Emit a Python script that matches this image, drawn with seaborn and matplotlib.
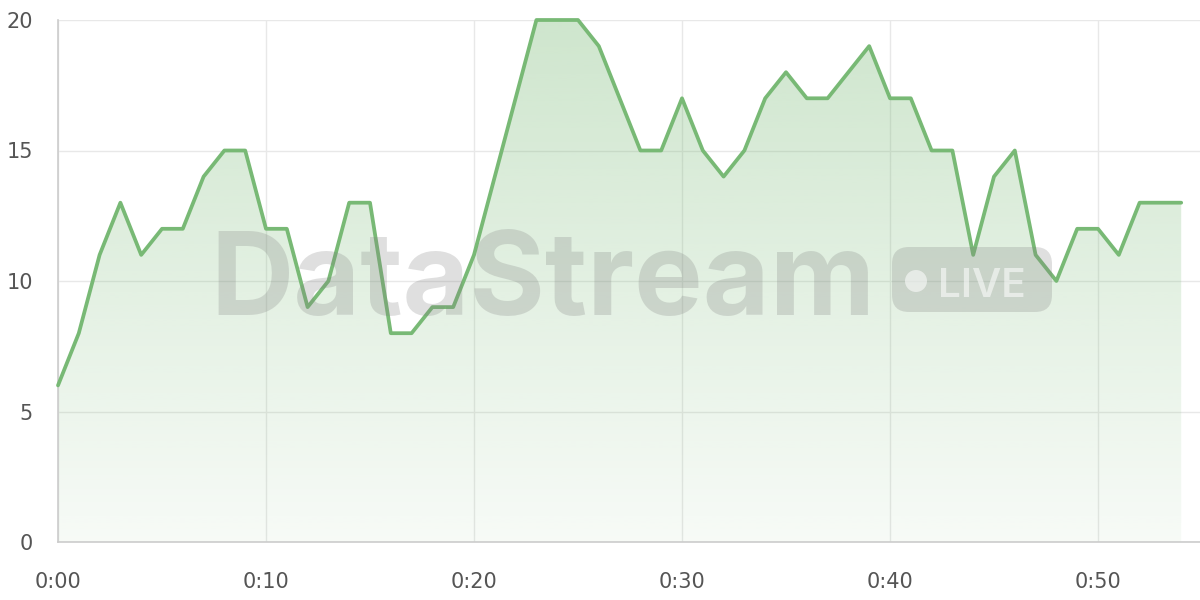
"""
Live stream viewer count chart with DataStream watermark.
"""

import matplotlib

matplotlib.use("Agg")

import matplotlib.pyplot as plt
import numpy as np
import seaborn as sns
from matplotlib.patches import Circle, FancyBboxPatch
from matplotlib.transforms import IdentityTransform


# -----------------------------
# Data
# -----------------------------

MINUTES = list(range(55))

VIEWERS = [
    6, 8, 11, 13, 11, 12, 12, 14, 15, 15,
    12, 12, 9, 10, 13, 13, 8, 8, 9, 9,
    11, 14, 17, 20, 20, 20, 19, 17, 15, 15,
    17, 15, 14, 15, 17, 18, 17, 17, 18, 19,
    17, 17, 15, 15, 11, 14, 15, 11, 10, 12,
    12, 11, 13, 13, 13,
]

X_TICKS = [0, 10, 20, 30, 40, 50]
X_TICK_LABELS = ["0:00", "0:10", "0:20", "0:30", "0:40", "0:50"]
Y_TICKS = [0, 5, 10, 15, 20]


# -----------------------------
# Style
# -----------------------------

sns.set_style("white")
plt.rcParams["font.family"] = ["DejaVu Sans"]

LINE_COLOR = "#78b975"
GRID_COLOR = "#e8e8e8"
AXIS_COLOR = "#cccccc"
TEXT_COLOR = "#555555"


def draw_gradient_fill(ax, x, y):
    poly = ax.fill_between(x, y, 0, color="none", linewidth=0)
    path = poly.get_paths()[0]

    rgb = np.array(matplotlib.colors.to_rgb(LINE_COLOR))
    grad = np.zeros((256, 1, 4))
    grad[:, 0, :3] = rgb
    grad[:, 0, 3] = np.linspace(0.06, 0.36, 256)

    img = ax.imshow(
        grad,
        extent=[0, max(x), 0, 20],
        origin="lower",
        aspect="auto",
        zorder=1,
        interpolation="bilinear",
    )
    img.set_clip_path(path, transform=ax.transData)


def draw_watermark(fig):
    ident = IdentityTransform()
    wm_color = "#808080"
    wm_alpha = 0.25

    fig.text(
        210, 600 - 315, "DataStream",
        transform=ident,
        fontsize=83,
        fontweight="bold",
        family=["Inter", "DejaVu Sans"],
        color=wm_color,
        alpha=wm_alpha,
        ha="left",
        va="baseline",
        zorder=3,
    )

    pill = FancyBboxPatch(
        (892, 600 - 312), 160, 65,
        boxstyle="round,pad=0,rounding_size=17",
        transform=ident,
        facecolor=wm_color,
        edgecolor="none",
        alpha=wm_alpha,
        zorder=3,
    )
    fig.patches.append(pill)
    pill.set_figure(fig)

    dot = Circle(
        (916, 600 - 281), 11,
        transform=ident,
        facecolor="white",
        edgecolor="none",
        alpha=0.55,
        zorder=4,
    )
    fig.patches.append(dot)
    dot.set_figure(fig)

    fig.text(
        938, 600 - 297, "LIVE",
        transform=ident,
        fontsize=29,
        fontweight="semibold",
        family=["Inter", "DejaVu Sans"],
        color="white",
        alpha=0.55,
        ha="left",
        va="baseline",
        zorder=4,
    )


def main() -> None:
    fig = plt.figure(figsize=(12, 6), dpi=100, facecolor="white")
    ax = fig.add_axes([58 / 1200, 58 / 600, 1142 / 1200, 522 / 600])

    draw_gradient_fill(ax, MINUTES, VIEWERS)

    sns.lineplot(
        x=MINUTES,
        y=VIEWERS,
        ax=ax,
        color=LINE_COLOR,
        linewidth=2.7,
        zorder=5,
        clip_on=False,
    )

    ax.set_xlim(0, 1142 / 20.8)
    ax.set_ylim(0, 20)

    ax.set_xticks(X_TICKS)
    ax.set_xticklabels(X_TICK_LABELS)
    ax.set_yticks(Y_TICKS)

    ax.grid(True, color=GRID_COLOR, linewidth=1.0, zorder=0)
    ax.set_axisbelow(True)

    for side in ["top", "right"]:
        ax.spines[side].set_visible(False)
    for side in ["left", "bottom"]:
        ax.spines[side].set_color(AXIS_COLOR)
        ax.spines[side].set_linewidth(1.2)

    ax.tick_params(
        axis="x", length=11.5, width=1.0, color=GRID_COLOR,
        labelsize=15, labelcolor=TEXT_COLOR, pad=10,
    )
    ax.tick_params(
        axis="y", length=11, width=1.0, color=GRID_COLOR,
        labelsize=15, labelcolor=TEXT_COLOR, pad=7,
    )

    draw_watermark(fig)

    fig.savefig("out.png", dpi=100, facecolor="white")
    plt.close(fig)


if __name__ == "__main__":
    main()
